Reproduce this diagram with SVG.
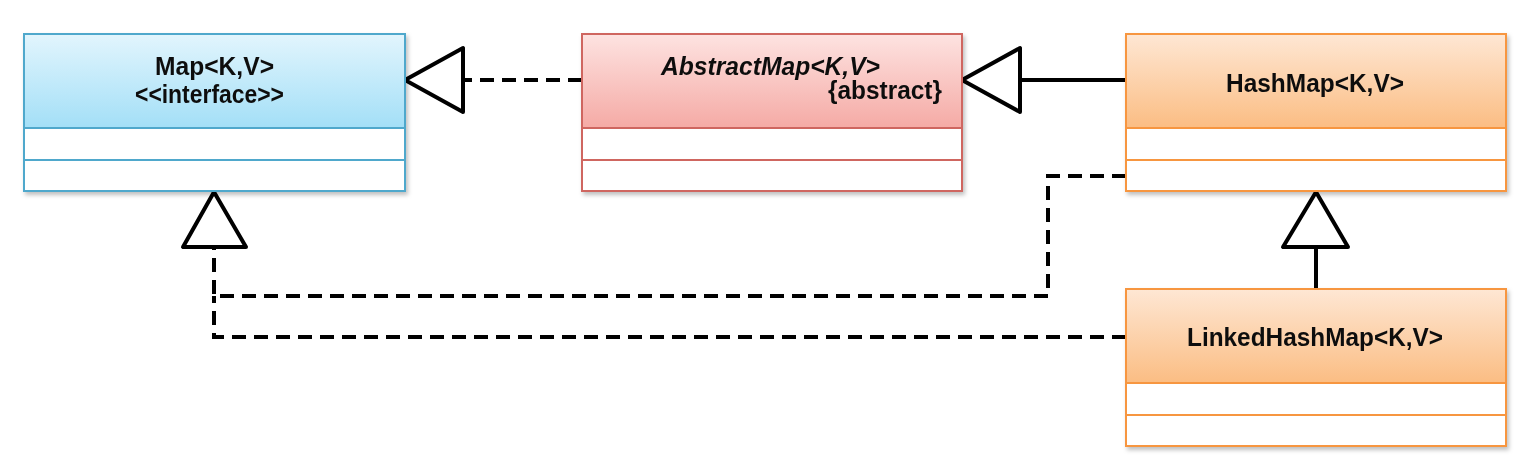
<svg xmlns="http://www.w3.org/2000/svg" width="1532" height="475" viewBox="0 0 1532 475">
<style>
.t{font-family:"Liberation Sans",Arial,sans-serif;font-weight:bold;font-size:25px;fill:#111}
.conn{fill:none;stroke:#000;stroke-width:4}
.dash{stroke-dasharray:14 8}
.tri{fill:#fff;stroke:#000;stroke-width:4;stroke-linejoin:round}
.body{fill:#fff}
</style>
<defs>
<linearGradient id="gBlue" x1="0" y1="0" x2="0" y2="1"><stop offset="0" stop-color="#e2f5fd"/><stop offset="1" stop-color="#a3dff7"/></linearGradient>
<linearGradient id="gRed" x1="0" y1="0" x2="0" y2="1"><stop offset="0" stop-color="#fde3e1"/><stop offset="1" stop-color="#f5aaa5"/></linearGradient>
<linearGradient id="gOrange" x1="0" y1="0" x2="0" y2="1"><stop offset="0" stop-color="#fee7d4"/><stop offset="1" stop-color="#fbbd83"/></linearGradient>
<filter id="sh" x="-5%" y="-5%" width="110%" height="115%"><feDropShadow dx="2" dy="3" stdDeviation="2" flood-color="#000" flood-opacity="0.25"/></filter>
</defs>
<rect width="1532" height="475" fill="#fff"/>

<g id="connectors">
<path class="conn dash" d="M582,80 H463"/>
<polygon class="tri" points="405,80 463,48 463,112"/>
<path class="conn" d="M1126,80 H1020"/>
<polygon class="tri" points="962,80 1020,48 1020,112"/>
<path class="conn" d="M1316,289 V247"/>
<polygon class="tri" points="1316,192 1283,247 1348,247"/>
<path class="conn dash" d="M1126,176 H1048 V296 H214 V247"/>
<path class="conn dash" d="M1126,337 H214 V296"/>
<polygon class="tri" points="214,192 183,247 246,247"/>
</g>

<g id="map" filter="url(#sh)">
<rect x="24" y="34" width="381" height="94" fill="url(#gBlue)" stroke="#4fa8cc" stroke-width="2"/>
<rect x="24" y="128" width="381" height="32" class="body" stroke="#4fa8cc" stroke-width="2"/>
<rect x="24" y="160" width="381" height="31" class="body" stroke="#4fa8cc" stroke-width="2"/>
<text class="t" x="155" y="75" textLength="119" lengthAdjust="spacingAndGlyphs">Map&lt;K,V&gt;</text>
<text class="t" x="135" y="103" textLength="149" lengthAdjust="spacingAndGlyphs">&lt;&lt;interface&gt;&gt;</text>
</g>

<g id="abstractmap" filter="url(#sh)">
<rect x="582" y="34" width="380" height="94" fill="url(#gRed)" stroke="#cf6660" stroke-width="2"/>
<rect x="582" y="128" width="380" height="32" class="body" stroke="#cf6660" stroke-width="2"/>
<rect x="582" y="160" width="380" height="31" class="body" stroke="#cf6660" stroke-width="2"/>
<text class="t" x="661" y="75" font-style="italic" textLength="219" lengthAdjust="spacingAndGlyphs">AbstractMap&lt;K,V&gt;</text>
<text class="t" x="828" y="99" textLength="114" lengthAdjust="spacingAndGlyphs">{abstract}</text>
</g>

<g id="hashmap" filter="url(#sh)">
<rect x="1126" y="34" width="380" height="94" fill="url(#gOrange)" stroke="#f7963f" stroke-width="2"/>
<rect x="1126" y="128" width="380" height="32" class="body" stroke="#f7963f" stroke-width="2"/>
<rect x="1126" y="160" width="380" height="31" class="body" stroke="#f7963f" stroke-width="2"/>
<text class="t" x="1226" y="92" textLength="178" lengthAdjust="spacingAndGlyphs">HashMap&lt;K,V&gt;</text>
</g>

<g id="linkedhashmap" filter="url(#sh)">
<rect x="1126" y="289" width="380" height="94" fill="url(#gOrange)" stroke="#f7963f" stroke-width="2"/>
<rect x="1126" y="383" width="380" height="32" class="body" stroke="#f7963f" stroke-width="2"/>
<rect x="1126" y="415" width="380" height="31" class="body" stroke="#f7963f" stroke-width="2"/>
<text class="t" x="1187" y="346" textLength="256" lengthAdjust="spacingAndGlyphs">LinkedHashMap&lt;K,V&gt;</text>
</g>
</svg>
